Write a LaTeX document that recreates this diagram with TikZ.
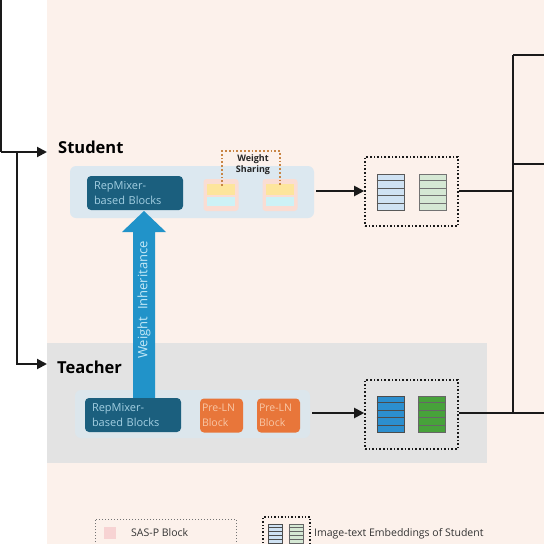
\documentclass[tikz,border=0pt]{standalone}
\usepackage{fontspec}
\setmainfont{Open Sans}
\usetikzlibrary{calc,arrows.meta}
\definecolor{peach}{HTML}{FCF1EB}
\definecolor{graypanel}{HTML}{E3E3E3}
\definecolor{stpanel}{HTML}{DCE8F0}
\definecolor{tpanel}{HTML}{DCE6EC}
\definecolor{teal}{HTML}{1B5F7E}
\definecolor{tealtxt}{HTML}{A3CFE2}
\definecolor{orng}{HTML}{E8763A}
\definecolor{orngtxt}{HTML}{F8C7A6}
\definecolor{arrowblue}{HTML}{2193C9}
\definecolor{arrowtxt}{HTML}{C4E8F6}
\definecolor{embblue}{HTML}{CFE2F3}
\definecolor{embgreen}{HTML}{D5E8D4}
\definecolor{tblue}{HTML}{2C8FCF}
\definecolor{tgreen}{HTML}{47A23A}
\definecolor{sbout}{HTML}{FADDD3}
\definecolor{sbyel}{HTML}{FDE59C}
\definecolor{sbcyan}{HTML}{CDF2F6}
\definecolor{wsdot}{HTML}{C88545}
\definecolor{pinksq}{HTML}{F7D3D3}
\definecolor{linec}{HTML}{1A1A1A}
\tikzset{
  conn/.style={draw=linec, line width=2pt},
  connarrow/.style={conn, -{Triangle[length=10pt,width=10pt]}},
  tealbox/.style={fill=teal, rounded corners=4pt, text=tealtxt, font=\fontsize{11}{14.5}\selectfont,
    minimum width=96pt, minimum height=34pt, text width=82pt, inner xsep=7pt, align=left},
  orngbox/.style={fill=orng, rounded corners=4pt, text=orngtxt, font=\fontsize{10.5}{15}\selectfont,
    minimum width=43pt, minimum height=34pt, text width=39pt, inner xsep=2pt, align=left},
  dotbox/.style={draw=linec, dotted, line width=1.6pt},
  embbox/.style={draw=#1, line width=1pt, minimum width=27pt, minimum height=36pt, inner sep=0pt},
  title/.style={font=\fontsize{16.5}{18}\selectfont\bfseries, text=black, anchor=west, inner sep=0pt},
  sbox/.style={fill=sbout, minimum width=35pt, minimum height=32pt, inner sep=0pt, rounded corners=3pt},
  legtxt/.style={font=\fontsize{10.5}{12}\selectfont, text=black!80, anchor=west, inner sep=0pt},
}
\newcommand{\embrows}[2]{%
  \foreach \k in {1,...,4} {\draw[line width=1pt, #2] ($(#1.north west)!\k/5!(#1.south west)$) -- ($(#1.north east)!\k/5!(#1.south east)$);}}
\begin{document}
\begin{tikzpicture}[x=1pt,y=-1pt]
\useasboundingbox (0,0) rectangle (544,544);
% backgrounds
\fill[white] (0,0) rectangle (47,544);
\fill[peach] (47,0) rectangle (544,544);
\fill[graypanel] (47,343) rectangle (487,463);
\fill[stpanel, rounded corners=6pt] (70,166) rectangle (314,218);
\fill[tpanel, rounded corners=6pt] (75,390) rectangle (310,438);

% titles
\node[title] (student) at (58,147) {Student};
\node[title] (teacher) at (57,367) {Teacher};

% left connectors
\coordinate (ltop) at (1,0);
\coordinate (lcorner) at (1,152);
\coordinate (lsplit) at (17,152);
\coordinate (lturn) at (17,364);
\draw[conn] (ltop) -- (lcorner);
\draw[connarrow, shorten >=11pt] (lcorner) -- (lcorner -| student.west);
\draw[connarrow, shorten >=10pt] (lsplit) -- (lturn) -- (lturn -| teacher.west);

% weight inheritance arrow (drawn before boxes)
\fill[arrowblue] (133,400) -- (133,232) -- (122,232) -- (144,211) -- (166,232) -- (155,232) -- (155,400) -- cycle;
\node[rotate=90, text=arrowtxt, font=\fontsize{13}{14}\selectfont, inner sep=0pt] (wi) at (144,300) {Weight\ \ Inheritance};

% student blocks
\node[tealbox] (srep) at (135,193) {RepMixer-\\based Blocks};
\node[sbox] (sb1) at (221,195) {};
\node[sbox] (sb2) at (280,195) {};
\foreach \b in {sb1,sb2} {
  \fill[sbyel] ($(\b.north west)+(4,5)$) rectangle ($(\b.north east)+(-4,16)$);
  \fill[sbcyan] ($(\b.north west)+(4,18)$) rectangle ($(\b.north east)+(-4,27)$);
}
\draw[draw=wsdot, dotted, line width=1.8pt] (222,186) -- (222,151) -- (280,151) -- (280,186);
\node[font=\fontsize{9}{11}\selectfont\bfseries, text=black!85, align=center, inner sep=0pt] (ws) at (253,165) {Weight\\Sharing};

% teacher blocks
\node[tealbox] (trep) at (133,415) {RepMixer-\\based Blocks};
\node[orngbox] (pre1) at (221.5,415.5) {Pre-LN\\Block};
\node[orngbox] (pre2) at (278.5,415.5) {Pre-LN\\Block};

% student embeddings
\node[dotbox, minimum width=93pt, minimum height=69pt] (semb) at (411.5,191.5) {};
\node[embbox=black!65, fill=embblue] (sbl) at (390.5,192) {};
\node[embbox=black!55, fill=embgreen] (sgr) at (433,192) {};
\embrows{sbl}{black!65}
\embrows{sgr}{black!55}

% teacher embeddings
\node[dotbox, minimum width=93pt, minimum height=69pt] (temb) at (411.5,414.5) {};
\node[embbox=black!70, fill=tblue] (tbl) at (390.5,414) {};
\node[embbox=black!60, fill=tgreen] (tgr) at (432,414) {};
\embrows{tbl}{black!70}
\embrows{tgr}{black!60}

% arrows to embeddings
\coordinate (sout) at (316,191);
\coordinate (tout) at (312,413);
\draw[connarrow] (sout) -- (sout -| semb.west);
\draw[connarrow] (tout) -- (tout -| temb.west);

% right connectors
\coordinate (rtop) at (513,55);
\coordinate (rmid) at (513,191);
\coordinate (rbot) at (513,413);
\coordinate (redge1) at (544,55);
\coordinate (redge2) at (544,164);
\coordinate (redge3) at (544,413);
\coordinate (rmid2) at (513,164);
\draw[conn] (semb.east |- rmid) -- (rmid);
\draw[conn] (temb.east |- redge3) -- (redge3);
\draw[conn] (rtop) -- (rbot);
\draw[conn] (rtop) -- (redge1);
\draw[conn] (rmid2) -- (redge2);

% legend
\draw[dotbox, line width=1pt, draw=black!55] (95,560) -- (95,519) -- (236,519) -- (236,560);
\node[fill=pinksq, minimum size=12pt, inner sep=0pt] (legsq) at (110,533) {};
\node[legtxt] (legt1) at (131,533) {SAS-P Block};
\draw[dotbox, line width=1.4pt] (263,560) -- (263,517) -- (310,517) -- (310,560);
\node[embbox=black!70, fill=embblue, minimum width=14pt, minimum height=19pt, line width=0.8pt] (legb) at (275.5,533.5) {};
\node[embbox=black!60, fill=embgreen, minimum width=14pt, minimum height=19pt, line width=0.8pt] (legg) at (296,533.5) {};
\embrows{legb}{black!70, line width=0.8pt}
\embrows{legg}{black!60, line width=0.8pt}
\node[legtxt] (legt2) at (314,534) {Image-text Embeddings of Student};
\end{tikzpicture}
\end{document}
